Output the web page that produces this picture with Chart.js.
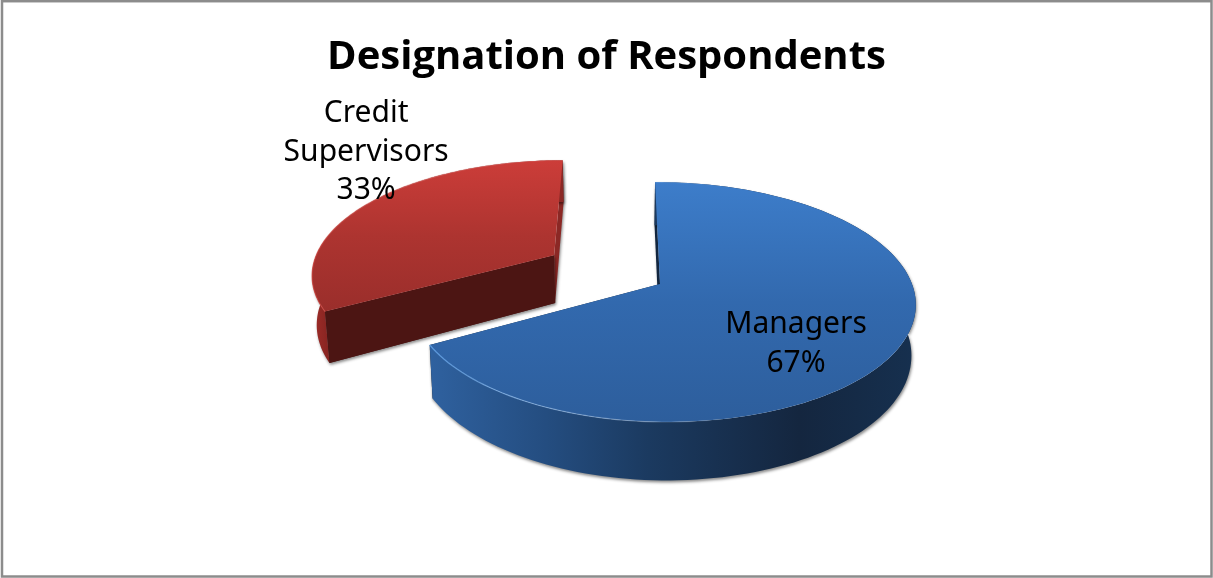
<!DOCTYPE html>
<html>
<head>
<meta charset="utf-8">
<style>
  html, body { margin: 0; padding: 0; background: #fff; }
  canvas { display: block; }
</style>
<script src="https://cdn.jsdelivr.net/npm/chart.js@4"></script>
</head>
<body>
<canvas id="myChart" width="1213" height="578"></canvas>
<script>
"use strict";

const categories = ['Managers', 'Credit Supervisors'];
const percentages = [67, 33];

// face gradient (top to bottom) and outer band gradient (left to right) of each slice
const faceColors = [['#3d7dca', '#3269ae', '#2d5e9c'], ['#cc3d39', '#ad3430', '#9a2e2b']];
const bandStops = [
    [[0, '#2f619f'], [0.24, '#244d80'], [0.45, '#1b3a60'], [0.76, '#14263f'], [1, '#16304f']],
    [[0, '#a02d29'], [0.1, '#7a201d'], [0.5, '#7a201d'], [0.85, '#8b2825'], [1, '#8b2825']]
];
// start wall, end wall
const wallColors = [['#12263f', '#12263f'], ['#4c1513', '#8b2825']];
const rimColors = ['rgba(96,160,230,0.9)', 'rgba(205,65,60,0.7)'];
const labelShift = [[136, 60], [-188, -103]];

// tilted-disc view used by the slices
const tilt = 0.15;
const squash = 0.4655;
const thickness = 0.197;
const vanishX = -38;
const lowerShrink = 0.985;
const pieShiftX = 53.5;
const leftNarrow = 0.98;

function project(el, a, r, lower) {
    const R = el.outerRadius;
    const half = (el.startAngle + el.endAngle) / 2;
    const push = (el.options.offset || 0) / R;
    const c = Math.cos(a);
    const u = r * c * (c < 0 ? leftNarrow : 1) + push * Math.cos(half);
    const v = r * Math.sin(a) + push * Math.sin(half);
    const t = 1 / (1 - tilt * v);
    const cx = el.x + pieShiftX;
    const vx = cx + vanishX;
    let x = vx + (cx + R * u - vx) * t;
    let y = el.y + R * squash * v * t;
    if (lower) {
        x = vx + (x - vx) * lowerShrink;
        y += R * thickness * t;
    }
    return { x, y };
}

function arcPoints(el, lower) {
    const pts = [];
    const steps = 140;
    for (let i = 0; i <= steps; i++) {
        const a = el.startAngle + (el.endAngle - el.startAngle) * i / steps;
        pts.push(project(el, a, 1, lower));
    }
    return pts;
}

function tracePoints(ctx, pts) {
    ctx.beginPath();
    pts.forEach((p, i) => (i ? ctx.lineTo(p.x, p.y) : ctx.moveTo(p.x, p.y)));
}

function drawSlice(chart, el, idx) {
    const ctx = chart.ctx;
    const rimTop = arcPoints(el, false);
    const rimLow = arcPoints(el, true);
    const apexTop = project(el, 0, 0, false);
    const apexLow = project(el, 0, 0, true);
    const last = rimTop.length - 1;

    ctx.save();
    ctx.shadowColor = 'rgba(0,0,0,0.45)';
    ctx.shadowBlur = 3;
    ctx.shadowOffsetX = 1;
    ctx.shadowOffsetY = 2;

    // radial walls
    ctx.fillStyle = wallColors[idx][1];
    tracePoints(ctx, [apexTop, rimTop[last], rimLow[last], apexLow]);
    ctx.closePath();
    ctx.fill();
    ctx.fillStyle = wallColors[idx][0];
    tracePoints(ctx, [apexTop, rimTop[0], rimLow[0], apexLow]);
    ctx.closePath();
    ctx.fill();

    // outer band
    const xs = rimTop.map(p => p.x);
    const band = ctx.createLinearGradient(Math.min(...xs), 0, Math.max(...xs), 0);
    bandStops[idx].forEach(([pos, c]) => band.addColorStop(pos, c));
    ctx.fillStyle = band;
    tracePoints(ctx, rimTop.concat(rimLow.slice().reverse()));
    ctx.closePath();
    ctx.fill();
    ctx.restore();

    // the wall facing the viewer goes over the band
    if (idx === 1) {
        ctx.fillStyle = wallColors[idx][0];
        tracePoints(ctx, [apexTop, rimTop[0], rimLow[0], apexLow]);
        ctx.closePath();
        ctx.fill();
    }

    // top face
    const ys = rimTop.map(p => p.y).concat(apexTop.y);
    const face = ctx.createLinearGradient(0, Math.min(...ys), 0, Math.max(...ys));
    faceColors[idx].forEach((c, i, all) => face.addColorStop(i / (all.length - 1), c));
    ctx.fillStyle = face;
    tracePoints(ctx, [apexTop].concat(rimTop));
    ctx.closePath();
    ctx.fill();

    // thin light rim on the lower left of the face
    const rim = ctx.createLinearGradient(Math.min(...xs), 0, Math.min(...xs) + 300, 0);
    rim.addColorStop(0, rimColors[idx]);
    rim.addColorStop(1, 'rgba(255,255,255,0)');
    ctx.strokeStyle = rim;
    ctx.lineWidth = 1.2;
    tracePoints(ctx, rimTop);
    ctx.stroke();
}

const pieView = {
    id: 'pieView',
    beforeDraw(chart) {
        const ctx = chart.ctx;
        ctx.save();
        ctx.strokeStyle = '#8c8c8c';
        ctx.lineWidth = 2.5;
        ctx.strokeRect(2, 1.2, 1209.5, 575.3);
        ctx.restore();
    },
    beforeDatasetDraw(chart, args) {
        const arcs = args.meta.data;
        // farthest slice first
        drawSlice(chart, arcs[1], 1);
        drawSlice(chart, arcs[0], 0);
        return false;
    },
    afterDraw(chart) {
        const ctx = chart.ctx;
        ctx.save();
        ctx.font = '30px "Noto Sans"';
        ctx.fillStyle = '#000';
        ctx.textAlign = 'center';
        ctx.textBaseline = 'middle';
        chart.getDatasetMeta(0).data.forEach((el, i) => {
            const apex = project(el, 0, 0, false);
            const lines = categories[i].split(' ').concat(percentages[i] + '%');
            const x = apex.x + labelShift[i][0];
            const y = apex.y + labelShift[i][1];
            lines.forEach((line, n) => {
                ctx.fillText(line, x, y + (n - (lines.length - 1) / 2) * 38.5);
            });
        });
        ctx.restore();
    }
};

new Chart(document.getElementById('myChart'), {
    type: 'pie',
    data: {
        labels: categories,
        datasets: [{
            data: percentages,
            backgroundColor: ['#3269ae', '#ad3430'],
            borderWidth: 0,
            offset: [0, 126]
        }]
    },
    options: {
        responsive: false,
        animation: false,
        radius: 252,
        layout: {
            padding: { bottom: 102 }
        },
        plugins: {
            legend: { display: false },
            tooltip: { enabled: false },
            title: {
                display: true,
                text: 'Designation of Respondents',
                color: '#000',
                font: { family: '"Open Sans"', size: 40, weight: 'bold' },
                padding: { top: 34, bottom: 10 }
            }
        }
    },
    plugins: [pieView]
});
</script>
</body>
</html>
